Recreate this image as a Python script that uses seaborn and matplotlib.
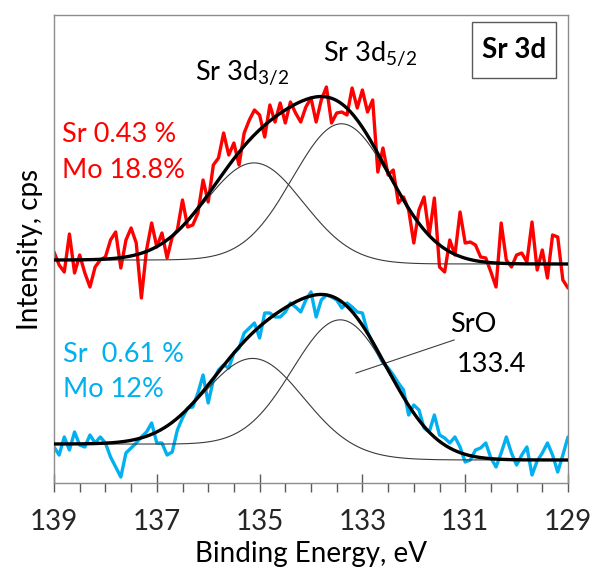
import numpy as np
import matplotlib
matplotlib.use("Agg")
import matplotlib.pyplot as plt
import seaborn as sns
from matplotlib.patches import Rectangle
from matplotlib.ticker import MultipleLocator

# ---------------- data ----------------
# measured spectra, 0.1 eV step from 139.0 eV down to 129.0 eV
binding_energy = np.linspace(139.0, 129.0, 101)

red_cps = [231, 218, 211, 249, 210, 228, 210, 196, 216, 223,
           226, 243, 251, 215, 243, 255, 240, 185, 233, 260,
           236, 250, 225, 246, 253, 283, 256, 258, 270, 303,
           281, 318, 325, 350, 328, 340, 318, 350, 363, 373,
           368, 346, 378, 361, 380, 360, 381, 370, 361, 376,
           385, 361, 383, 396, 360, 370, 371, 368, 395, 375,
           393, 371, 383, 311, 335, 308, 313, 280, 286, 273,
           240, 273, 286, 248, 285, 216, 211, 243, 228, 271,
           240, 241, 238, 226, 225, 211, 196, 260, 223, 216,
           228, 230, 221, 261, 213, 233, 205, 248, 246, 203,
           195]

blue_cps = [36, 28, 46, 33, 51, 38, 36, 48, 40, 46,
            40, 26, 16, 6, 30, 35, 40, 46, 51, 60,
            40, 40, 28, 31, 53, 65, 75, 76, 90, 108,
            80, 103, 113, 118, 115, 130, 135, 150, 155, 160,
            145, 170, 170, 166, 166, 171, 180, 176, 171, 183,
            191, 166, 183, 188, 186, 183, 175, 180, 176, 171,
            170, 151, 140, 130, 120, 115, 108, 100, 93, 68,
            78, 73, 55, 51, 68, 48, 45, 40, 46, 36,
            21, 23, 33, 35, 40, 25, 16, 30, 46, 30,
            18, 28, 36, 8, 22, 30, 40, 28, 11, 28,
            46]

# peak-fit parameters (Sr 3d3/2, Sr 3d5/2)
peak_centers = [135.1, 133.4]
peak_fwhm = [2.24, 2.24]
red_heights = [98, 139]
blue_heights = [89, 135]
# background level at the high-BE (left) and low-BE (right) ends
red_background = [223, 219]
blue_background = [39, 23]

tick_values = [139, 137, 135, 133, 131, 129]

# ---------------- style ----------------
sns.set_theme(style="white")
plt.rcParams['font.family'] = ['Lato', 'DejaVu Sans']
plt.rcParams['mathtext.fontset'] = 'custom'
plt.rcParams['mathtext.rm'] = 'Lato'
plt.rcParams['mathtext.it'] = 'Lato:italic'
plt.rcParams['mathtext.bf'] = 'Lato:bold'

RED = '#FF0000'
BLUE = '#00B0F0'
GRAY = '#8C8C8C'

fig = plt.figure(figsize=(5.94, 5.77), dpi=100)
ax = fig.add_axes([54 / 594, 94 / 577, 514 / 594, 468 / 577])

e_fit = np.linspace(139.0, 129.0, 401)


def gaussian(e, c, h, fwhm):
    return h * np.exp(-4 * np.log(2) * (e - c) ** 2 / fwhm ** 2)


def fit_curves(heights, bg_ends):
    comps = [gaussian(e_fit, c, h, w) for c, h, w in zip(peak_centers, heights, peak_fwhm)]
    total = np.sum(comps, axis=0)
    cum = np.cumsum(total[::-1])[::-1]
    frac = cum / cum[0]
    bg = bg_ends[1] + (bg_ends[0] - bg_ends[1]) * frac
    return [c + bg for c in comps], total + bg


for cps, color, heights, bg_ends in [(red_cps, RED, red_heights, red_background),
                                     (blue_cps, BLUE, blue_heights, blue_background)]:
    sns.lineplot(x=binding_energy, y=cps, color=color, lw=2.4, ax=ax, zorder=2)
    comps, env = fit_curves(heights, bg_ends)
    for c in comps:
        sns.lineplot(x=e_fit, y=c, color='#3a3a3a', lw=0.8, ax=ax, zorder=3)
    sns.lineplot(x=e_fit, y=env, color='black', lw=2.4, ax=ax, zorder=4)

ax.set_xlim(139, 129)
ax.set_ylim(0, 468)
ax.set_xticks(tick_values)
ax.set_xticklabels([str(t) for t in tick_values])
ax.xaxis.set_minor_locator(MultipleLocator(0.5))
ax.set_yticks([])
ax.tick_params(axis='x', which='major', direction='inout', length=13, width=1,
               color='#595959', labelsize=20, pad=12.5, bottom=True)
ax.tick_params(axis='x', which='minor', direction='out', length=6.5, width=1,
               color='#595959', bottom=True)
for s in ax.spines.values():
    s.set_color(GRAY)
    s.set_linewidth(1)

ax.set_xlabel('Binding Energy, eV', fontsize=20, labelpad=4, color='black')
ax.set_ylabel('Intensity, cps', fontsize=20, labelpad=8, color='black')

# annotations
fs = 19.5
ax.text(138.84, 341, 'Sr 0.43 %', color=RED, fontsize=fs, va='baseline', ha='left')
ax.text(138.84, 305, 'Mo 18.8%', color=RED, fontsize=fs, va='baseline', ha='left')
ax.text(138.83, 121, 'Sr  0.61 %', color=BLUE, fontsize=fs, va='baseline', ha='left')
ax.text(138.83, 86, 'Mo 12%', color=BLUE, fontsize=fs, va='baseline', ha='left')

ax.text(136.25, 403, r'Sr 3d$_{\mathregular{3/2}}$', color='black', fontsize=fs,
        va='baseline', ha='left')
ax.text(133.76, 422, r'Sr 3d$_{\mathregular{5/2}}$', color='black', fontsize=fs,
        va='baseline', ha='left')

ax.text(131.29, 151, 'SrO', color='black', fontsize=fs, va='baseline', ha='left')
ax.text(131.17, 111, '133.4', color='black', fontsize=fs, va='baseline', ha='left')
ax.annotate('', xy=(133.18, 109), xytext=(131.16, 144),
            arrowprops=dict(arrowstyle='-', color='#404040', lw=0.8))

ax.add_patch(Rectangle((0.813, 0.865), 0.164, 0.12, transform=ax.transAxes,
                       fill=False, edgecolor='#595959', lw=1, zorder=5))
ax.text(0.895, 0.925, 'Sr 3d', transform=ax.transAxes, fontsize=20,
        fontweight='bold', ha='center', va='center', color='black')

fig.savefig('out.png', dpi=100)
